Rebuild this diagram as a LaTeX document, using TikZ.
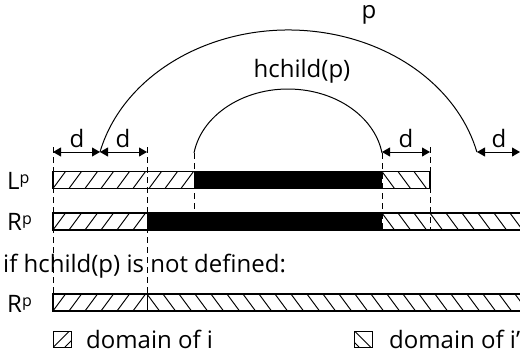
\documentclass[tikz,border=0pt]{standalone}
\usepackage{fontspec}
\setmainfont{Open Sans}
\usetikzlibrary{arrows.meta}
\newcommand\supp{\raisebox{6pt}{\fontsize{16}{16}\selectfont p}}
% "/" hatching: x1, ytop, x2, ybottom
\newcommand\fwhatch[4]{%
  \begin{scope}
    \clip (#1,#2) rectangle (#3,#4);
    \foreach \k in {0,...,30}{
      \draw[hatchline] ({#1+16*\k-1.5},{#4+2}) -- ++(15.5,-21);
    }
  \end{scope}}
% "\" hatching: x1, ytop, x2, ybottom
\newcommand\bkhatch[4]{%
  \begin{scope}
    \clip (#1,#2) rectangle (#3,#4);
    \foreach \k in {0,...,30}{
      \draw[hatchline] ({#1+16*\k-1.5},{#2-2}) -- ++(15.5,21);
    }
  \end{scope}}
\begin{document}
\begin{tikzpicture}[x=1pt,y=-1pt,
  txt/.style={font=\fontsize{24}{28}\selectfont, inner sep=0pt},
  barframe/.style={draw=black, line width=1.1pt},
  hatchline/.style={line width=0.95pt},
  guide/.style={dash pattern=on 6pt off 4pt, line width=0.9pt},
  dimarrow/.style={{Triangle[length=8pt,width=9pt]}-{Triangle[length=8pt,width=9pt]}, line width=0.9pt},
  arcline/.style={line width=1pt}]
\useasboundingbox (0,0) rectangle (520,356);

% ---------- coordinates ----------
\coordinate (d1a) at (53,152);
\coordinate (d1m) at (100,152);
\coordinate (d1b) at (147,152);
\coordinate (ia)  at (194,153);
\coordinate (d2a) at (382,152);
\coordinate (d2b) at (430,152);
\coordinate (d3a) at (477,152);
\coordinate (d3b) at (520,152);

% ---------- bars ----------
% L^p
\fwhatch{53}{171.5}{194}{188.5}
\fill[black] (194,171.5) rectangle (382,188.5);
\bkhatch{382}{171.5}{430}{188.5}
\draw[barframe] (53,171.5) rectangle (430,188.5);
% R^p
\fwhatch{53}{213}{147}{230}
\fill[black] (147,213) rectangle (382,230);
\bkhatch{382}{213}{530}{230}
\draw[barframe] (53,213) rectangle (530,230);
% R^p (hchild undefined)
\fwhatch{53}{294}{147}{311}
\bkhatch{147}{294}{530}{311}
\draw[barframe] (53,294) rectangle (530,311);
\draw[hatchline] (147,294) -- (147,311);

% ---------- guides ----------
\draw[guide] (53,147) -- (53,294);
\draw[guide] (147,147) -- (147,294);
\draw[guide] (194,153) -- (194,213);
\draw[guide] (382,153) -- (382,230);
\draw[guide] (430,147) -- (430,230);

% ---------- dimension arrows ----------
\draw[dimarrow] (d1a) -- (d1m);
\draw[dimarrow] (d1m) -- (d1b);
\draw[dimarrow] (d2a) -- (d2b);
\draw[dimarrow] (d3a) -- (d3b);
\node[txt, anchor=base] (dl1) at (77,147) {d};
\node[txt, anchor=base] (dl2) at (123,147) {d};
\node[txt, anchor=base] (dl3) at (406,147) {d};
\node[txt, anchor=base] (dl4) at (499,147) {d};

% ---------- arcs ----------
\draw[arcline] (d1m) arc[start angle=166.26, end angle=13.74, x radius=194pt, y radius=160pt];
\draw[arcline] (ia) arc[start angle=170.9, end angle=9.1, x radius=95.2pt, y radius=76pt];
\node[txt, anchor=base] (p) at (369,19) {p};
\node[txt, anchor=base] (hc) at (302,77) {hchild(p)};

% ---------- row labels ----------
\node[txt, anchor=base west] (Lp) at (7,189) {L\supp};
\node[txt, anchor=base west] (Rp) at (7,230) {R\supp};
\node[txt, anchor=base west] (cond) at (3,272) {if hchild(p) is not defined:};
\node[txt, anchor=base west] (Rp2) at (7,312) {R\supp};

% ---------- legend ----------
\begin{scope}
  \clip (53,331) rectangle (71,347);
  \draw[hatchline] (53.5,347) -- ++(16,-16);
  \draw[hatchline] (65,347) -- ++(16,-16);
\end{scope}
\draw[line width=1pt] (53,331) rectangle (71,347);
\node[txt, anchor=base west] (li) at (86,348) {domain of i};
\begin{scope}
  \clip (354,331) rectangle (372,347);
  \draw[hatchline] (354.5,331) -- ++(16,16);
  \draw[hatchline] (343,331) -- ++(16,16);
\end{scope}
\draw[line width=1pt] (354,331) rectangle (372,347);
\node[txt, anchor=base west] (lj) at (389,348) {domain of i\symbol{39}};
\end{tikzpicture}
\end{document}
